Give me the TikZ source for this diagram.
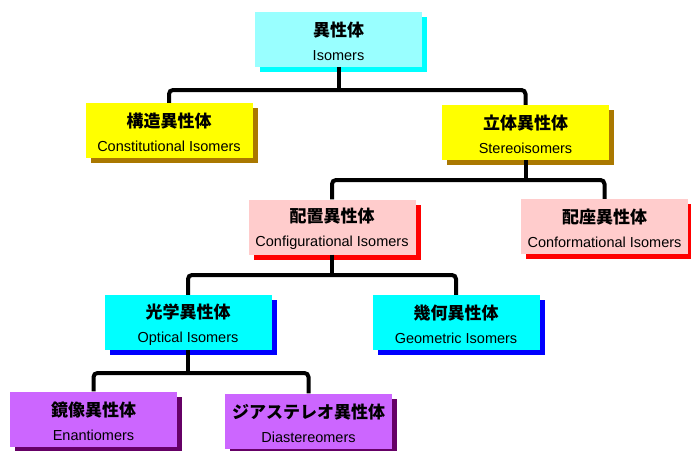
\documentclass[tikz,border=0pt]{standalone}
\usepackage{fontspec}
\setmainfont{Liberation Sans}
\newfontfamily\jpfont{Noto Sans CJK JP}
\usetikzlibrary{shadows}
\definecolor{isoc}{RGB}{153,255,255}
\definecolor{isosh}{RGB}{0,255,255}
\definecolor{stc}{RGB}{255,255,0}
\definecolor{stsh}{RGB}{170,120,0}
\definecolor{cfc}{RGB}{255,204,204}
\definecolor{cfsh}{RGB}{255,0,0}
\definecolor{opc}{RGB}{0,255,255}
\definecolor{opsh}{RGB}{0,0,255}
\definecolor{enc}{RGB}{204,102,255}
\definecolor{ensh}{RGB}{102,0,102}
\newcommand{\isotext}[2]{{\jpfont\bfseries\fontsize{17}{24}\selectfont\rule{0pt}{19pt}#1}\\#2}
\tikzset{
  cls/.style={rectangle,minimum width=167pt,minimum height=55pt,inner sep=0pt,
    align=center,font=\fontsize{14.5}{24}\selectfont},
  shd/.style={drop shadow={shadow xshift=5pt,shadow yshift=-5pt,fill=#1,opacity=1}},
  bus/.style={line width=4pt,black,rounded corners=4pt},
}
\begin{document}
\begin{tikzpicture}[x=1pt,y=-1pt]
  \useasboundingbox[fill=white] (0,0) rectangle (691,450);
  % classes
  \node[cls,shd=isosh,fill=isoc] (iso) at (338.5,39.5) {\isotext{異性体}{Isomers}};
  \node[cls,shd=stsh,fill=stc] (con) at (169,130.5) {\isotext{構造異性体}{Constitutional Isomers}};
  \node[cls,shd=stsh,fill=stc] (ste) at (525.5,132.5) {\isotext{立体異性体}{Stereoisomers}};
  \node[cls,shd=cfsh,fill=cfc] (cfg) at (332,227) {\isotext{配置異性体}{Configurational Isomers}};
  \node[cls,shd=cfsh,fill=cfc] (cfm) at (604.5,226.5) {\isotext{配座異性体}{Conformational Isomers}};
  \node[cls,shd=opsh,fill=opc] (opt) at (188,322.5) {\isotext{光学異性体}{Optical Isomers}};
  \node[cls,shd=opsh,fill=opc] (geo) at (456,322.5) {\isotext{幾何異性体}{Geometric Isomers}};
  \node[cls,shd=ensh,fill=enc] (ena) at (93.5,419) {\isotext{鏡像異性体}{Enantiomers}};
  \node[cls,shd=ensh,fill=enc] (dia) at (308.5,421) {\isotext{ジアステレオ異性体}{Diastereomers}};
  % buses
  \coordinate (b1) at (338.5,90); \coordinate (b2) at (525.5,180);
  \coordinate (b3) at (332,275);  \coordinate (b4) at (188,373);
  \draw[bus] (iso) -- (b1); \draw[bus] (con.north) |- (b1) -| (ste.north);
  \draw[bus] (ste) -- (b2); \draw[bus] (cfg.north) |- (b2) -| (cfm.north);
  \draw[bus] (cfg) -- (b3); \draw[bus] (opt.north) |- (b3) -| (geo.north);
  \draw[bus] (opt) -- (b4); \draw[bus] (ena.north) |- (b4) -| (dia.north);
\end{tikzpicture}
\end{document}
